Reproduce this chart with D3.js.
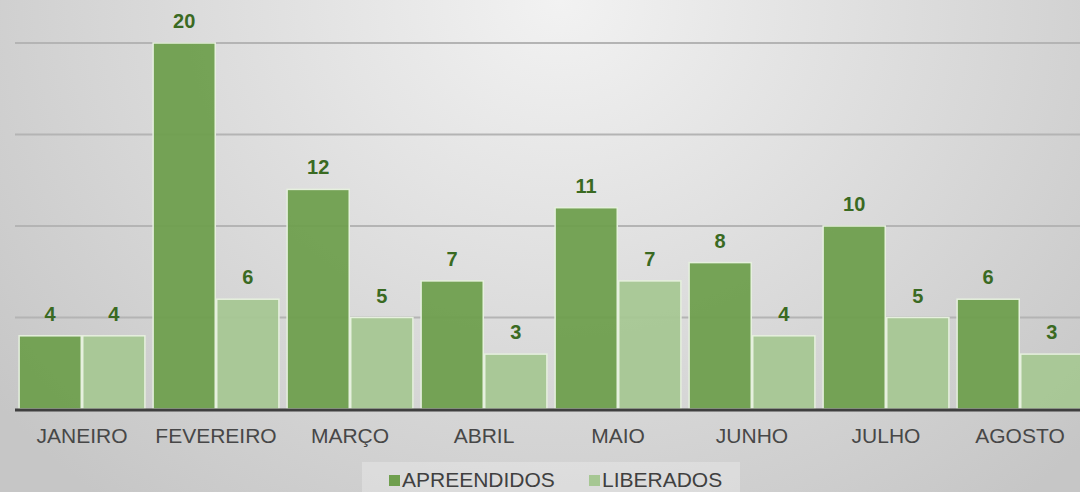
<!DOCTYPE html>
<html>
<head>
<meta charset="utf-8">
<script src="https://cdn.jsdelivr.net/npm/d3@7"></script>
<style>
  html, body { margin: 0; padding: 0; }
  body { width: 1080px; height: 492px; overflow: hidden; }
  text { font-family: "Liberation Sans", Arial, sans-serif; }
</style>
</head>
<body>
<svg id="chart" width="1080" height="492"></svg>
<script>
// dados
var meses = ["JANEIRO", "FEVEREIRO", "MARÇO", "ABRIL", "MAIO", "JUNHO", "JULHO", "AGOSTO"];
var apreendidos = [4, 20, 12, 7, 11, 8, 10, 6];
var liberados = [4, 6, 5, 3, 7, 4, 5, 3];
var series = ["APREENDIDOS", "LIBERADOS"];
var gridTicks = [5, 10, 15, 20];

const COLORS = ["#6f9f4e", "#a6c793"];
const BASE_Y = 409;
const TOP_Y = 43;

var svg = d3.select("#chart");

// fundo com degradê
var defs = svg.append("defs");
var grad = defs.append("radialGradient")
  .attr("id", "bg")
  .attr("gradientUnits", "userSpaceOnUse")
  .attr("cx", 560).attr("cy", 0).attr("r", 720)
  .attr("gradientTransform", "translate(560,0) scale(1,0.9) translate(-560,0)");
grad.append("stop").attr("offset", "0%").attr("stop-color", "#f2f2f2");
grad.append("stop").attr("offset", "100%").attr("stop-color", "#c6c6c6");
svg.append("rect").attr("width", 1080).attr("height", 492).attr("fill", "url(#bg)");

// escalas
var x0 = d3.scaleBand()
  .domain(meses)
  .range([15, 1087])
  .paddingInner(0.05)
  .paddingOuter(0.025);
var x1 = d3.scaleBand()
  .domain(series)
  .range([0, x0.bandwidth()]);
var y = d3.scaleLinear()
  .domain([0, 20])
  .range([BASE_Y, TOP_Y]);

// linhas de grade
svg.append("g")
  .selectAll("line")
  .data(gridTicks)
  .enter()
  .append("line")
  .attr("x1", 15).attr("x2", 1080)
  .attr("y1", function(d){ return y(d); })
  .attr("y2", function(d){ return y(d); })
  .attr("stroke", "#b4b4b4")
  .attr("stroke-width", 2);

// barras
var dataset = meses.map(function(m, i){
  return [
    {mes: m, serie: series[0], v: apreendidos[i]},
    {mes: m, serie: series[1], v: liberados[i]}
  ];
});

var grupos = svg.append("g")
  .selectAll("g")
  .data(dataset)
  .enter()
  .append("g")
  .attr("transform", function(d, i){ return "translate(" + x0(meses[i]) + ",0)"; });

grupos.selectAll("rect")
  .data(function(d){ return d; })
  .enter()
  .append("rect")
  .attr("x", function(d){ return x1(d.serie) + 0.75; })
  .attr("y", function(d){ return y(d.v); })
  .attr("width", x1.bandwidth() - 1.5)
  .attr("height", function(d){ return BASE_Y - y(d.v); })
  .attr("fill", function(d, i){ return COLORS[i]; })
  .attr("fill-opacity", 0.95)
  .attr("stroke", "#e6f0de")
  .attr("stroke-width", 1.5);

// rótulos de valor
grupos.selectAll("text")
  .data(function(d){ return d; })
  .enter()
  .append("text")
  .attr("x", function(d){ return x1(d.serie) + x1.bandwidth() / 2; })
  .attr("y", function(d){ return y(d.v) - 15; })
  .attr("text-anchor", "middle")
  .attr("font-size", "20px")
  .attr("font-weight", "bold")
  .attr("fill", "#3a6a22")
  .text(function(d){ return d.v; });

// eixo x
svg.append("line")
  .attr("x1", 15).attr("x2", 1080)
  .attr("y1", BASE_Y + 1).attr("y2", BASE_Y + 1)
  .attr("stroke", "#3f3f3f")
  .attr("stroke-width", 3);

svg.append("g")
  .selectAll("text")
  .data(meses)
  .enter()
  .append("text")
  .attr("x", function(d){ return x0(d) + x0.bandwidth() / 2; })
  .attr("y", 443)
  .attr("text-anchor", "middle")
  .attr("font-size", "21px")
  .attr("fill", "#474747")
  .text(function(d){ return d; });

// legenda
svg.append("rect")
  .attr("x", 362).attr("y", 462)
  .attr("width", 378).attr("height", 32)
  .attr("fill", "#ffffff")
  .attr("fill-opacity", 0.25);

var legX = [389, 589];
var leg = svg.append("g")
  .selectAll("g")
  .data(series)
  .enter()
  .append("g")
  .attr("transform", function(d, i){ return "translate(" + legX[i] + ",0)"; });
leg.append("rect")
  .attr("x", 0).attr("y", 475)
  .attr("width", 11).attr("height", 11)
  .attr("fill", function(d, i){ return COLORS[i]; });
leg.append("text")
  .attr("x", 13).attr("y", 487)
  .attr("font-size", "21px")
  .attr("fill", "#404040")
  .text(function(d){ return d; });
</script>
</body>
</html>
